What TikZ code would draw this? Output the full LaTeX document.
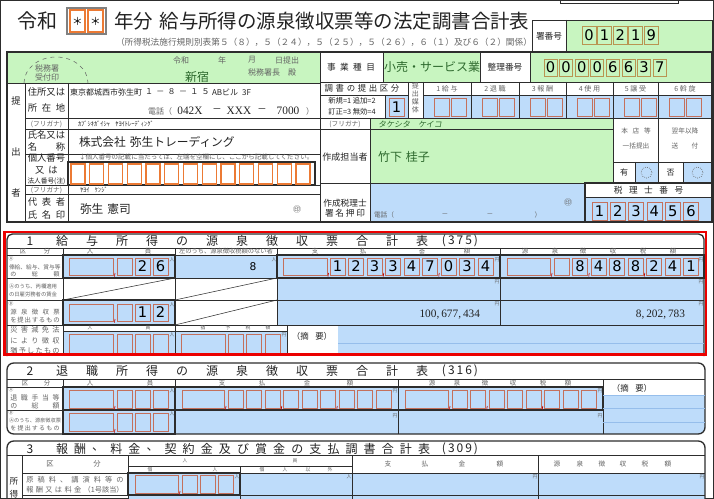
\documentclass[tikz,border=0pt]{standalone}
\usepackage{fontspec}
\setmainfont{Noto Sans CJK JP}
\newfontfamily\jp{Noto Sans CJK JP}
\newfontfamily\jpsl[FakeSlant=0.18]{Noto Sans CJK JP}
\newfontfamily\dgf{DejaVu Sans}
\newfontfamily\srf{Liberation Serif}
\newcommand{\fs}[1]{\fontsize{#1}{#1}\selectfont}
\newcommand{\sprd}[2]{\makebox[#1][s]{#2}}
\definecolor{fgreen}{RGB}{200,245,192}
\definecolor{fblue}{RGB}{190,220,250}
\definecolor{forange}{RGB}{236,122,52}
\definecolor{fbrown}{RGB}{196,112,92}
\definecolor{folive}{RGB}{185,148,82}
\definecolor{fline}{RGB}{45,45,45}
\definecolor{tdark}{RGB}{35,35,35}
\definecolor{tgray}{RGB}{100,100,100}
\definecolor{tgreen}{RGB}{45,105,45}
\definecolor{lblue}{RGB}{150,190,235}
\definecolor{fred}{RGB}{235,0,0}
\tikzset{
  tx/.style={inner sep=0pt, outer sep=0pt},
  jl/.style={tx, font=\jp\fs{7}, text=tdark},
  jm/.style={tx, font=\jp\fs{6}, text=tgray},
  js/.style={tx, font=\jp\fs{5}, text=tgray},
  jxs/.style={tx, font=\jp\fs{4.2}, text=tgray},
  jt/.style={tx, font=\jp\fs{3.6}, text=tgray},
  hd/.style={tx, font=\jp\fs{9}, text=tdark},
  dg/.style={tx, font=\dgf\fs{11}, text=black},
  ln/.style={draw=fline, line width=0.5pt},
  tk/.style={draw=fline, line width=1pt},
  bb/.style={draw=fbrown, line width=0.6pt},
  ob/.style={draw=forange, line width=0.8pt},
  ol/.style={draw=folive, line width=0.7pt},
  cmk/.style={draw=red!75!black, line width=0.5pt},
}
\begin{document}
\begin{tikzpicture}[x=0.75pt,y=-0.75pt]
\useasboundingbox (0,0) rectangle (714,499);
\begin{scope}
\clip (0,0) rectangle (714,499);
\fill[white] (0,0) rectangle (714,499);
% ================= fills top block
\fill[fgreen] (7,52) rectangle (320,83);
\fill[fgreen] (383,52) rectangle (480,82);
\fill[fgreen] (530,52) rectangle (712,82);
\fill[fgreen] (566,20) rectangle (712,52);
\fill[fblue] (385,95) rectangle (408,118);
\fill[fblue] (423,95) rectangle (712,118);
\fill[fgreen] (370,118) rectangle (613,183);
\fill[fblue] (635,162) rectangle (658,183);
\fill[fblue] (683,162) rectangle (712,183);
\fill[fblue] (370,183) rectangle (585,222);
\fill[fblue] (585,197) rectangle (712,222);
% image frame
\draw[fline, line width=0.8pt] (0.5,0.5) rectangle (713.5,498.5);
\draw[ln] (560,0) -- (560,3) -- (678,3) -- (678,0);
% ================= title
\node[tx, font=\jp\fs{15}, text=tdark, anchor=west] (reiwa) at (17,21) {令和};
\draw[gray, line width=0.8pt] (67,8) rectangle (106,34);
\draw[ob] (70,10) rectangle (85,32);
\draw[ob] (88,10) rectangle (103,32);
\node[tx, font=\jp\fs{8}] (ast1) at (77.5,21) {＊};
\node[tx, font=\jp\fs{8}] (ast2) at (95.5,21) {＊};
\node[tx, font=\jp\fs{14.6}, text=tdark, anchor=west] (title) at (114,21) {年分\hspace{5pt}給与所得の源泉徴収票等の法定調書合計表};
\node[tx, font=\jp\fs{6.5}, text=tgray, anchor=west] (subt) at (116,42) {（所得税法施行規則別表第５（８），５（２４），５（２５），５（２６），６（１）及び６（２）関係）};
% ================= 署番号
\draw[ln] (532,20) rectangle (712,52);
\draw[ln] (566,20) -- (566,52);
\node[tx, font=\jp\fs{6.5}, text=tdark] (shol) at (549,36) {署番号};
\foreach \d [count=\k from 0] in {0,1,2,1,9} {
  \draw[ol] ({582+15.6*\k},26) rectangle +(14,18);
  \node[dg] (sho\k) at ({589+15.6*\k},35) {\d};
}
% ================= top form lines
\draw[fline, line width=0.8pt] (7,52) rectangle (712,222);
\draw[ln] (7,83) -- (320,83);
\draw[ln] (320,52) -- (320,222);
\draw[ln] (25,83) -- (25,222);
\draw[ln] (68,83) -- (68,222);
\foreach \yy in {118,129,154,185,194} \draw[ln] (25,\yy) -- (320,\yy);
\draw[tk] (68,162) rectangle (315,185);
% right part
\draw[ln] (383,52) -- (383,82);
\draw[ln] (480,52) -- (480,82);
\draw[ln] (530,52) -- (530,82);
\draw[ln] (320,82) -- (712,82);
\draw[ln] (320,95) -- (408,95);
\draw[ln] (423,95) -- (712,95);
\draw[ln] (385,95) -- (385,118);
\draw[ln] (408,82) -- (408,118);
\draw[ln] (423,82) -- (423,118);
\foreach \xx in {471,519,566,613,658} \draw[ln] (\xx,82) -- (\xx,118);
\draw[ln] (320,118) -- (712,118);
\draw[ln] (370,118) -- (370,222);
\draw[ln] (320,129) -- (613,129);
\draw[ln] (613,118) -- (613,183);
\draw[ln] (658,118) -- (658,183);
\draw[ln] (613,162) -- (712,162);
\draw[ln] (635,162) -- (635,183);
\draw[ln] (683,162) -- (683,183);
\draw[ln] (320,183) -- (712,183);
\draw[tk] (585,183) rectangle (712,222);
\draw[ln] (585,197) -- (712,197);
% ---- header green texts
\draw[tgray, dashed, line width=0.4pt] (24,83) arc[start angle=180, end angle=360, x radius=32, y radius=26];
\node[jm] (zei1) at (47,68) {税務署};
\node[jm] (zei2) at (47,77) {受付印};
\node[jm] (hr) at (181,60) {令和};
\node[jm] (hy) at (222,60) {年};
\node[jm] (hmo) at (252,60) {月};
\node[jm] (hd1) at (287,60) {日提出};
\node[tx, font=\jp\fs{9}, text=tgreen] (shinj) at (197,77) {新宿};
\node[jm] (zcho) at (272,72) {税務署長\hspace{6pt}殿};
% ---- left labels
\node[jl] (tei) at (16,101) {提};
\node[jl] (shu) at (16,152) {出};
\node[jl] (sha) at (16,193) {者};
\node[jl] (l1) at (46.5,92) {住所又は};
\node[jl] (l2) at (46.5,108) {\sprd{28pt}{所\hfill 在\hfill 地}};
\node[js] (l3) at (46.5,124) {(フリガナ)};
\node[jl] (l4) at (46.5,135) {氏名又は};
\node[jl] (l5) at (46.5,147) {\sprd{28pt}{名\hfill 称}};
\node[jl] (l6) at (46.5,158) {個人番号};
\node[jl] (l7) at (46.5,170) {又\hspace{3pt}は};
\node[tx, font=\jp\fs{5}, text=tdark] (l8) at (46.5,181) {法人番号(注)};
\node[js] (l9) at (46.5,190) {(フリガナ)};
\node[jl] (l10) at (46.5,202) {\sprd{28pt}{代\hfill 表\hfill 者}};
\node[jl] (l11) at (46.5,215) {\sprd{28pt}{氏\hfill 名\hfill 印}};
% ---- left contents
\node[tx, font=\jp\fs{6}, text=tdark, anchor=west] (ad1) at (70,92) {東京都城西市弥生町};
\node[tx, font=\jp\fs{6}, text=tdark, anchor=west] (ad2) at (145,92) {１\hspace{2.5pt}－\hspace{2.5pt}８\hspace{2.5pt}－\hspace{2.5pt}１\hspace{2.5pt}５};
\node[tx, font=\jp\fs{6}, text=tdark, anchor=west] (ad3) at (212,92) {ABビル\hspace{3pt}3F};
\node[jm] (tel1) at (160,111) {電話（};
\node[tx, font=\srf\fs{8.5}, text=tdark] (tel2) at (190,111) {042X};
\node[tx, font=\jp\fs{7}, text=tdark] (tel3) at (217,111) {－};
\node[tx, font=\srf\fs{8.5}, text=tdark] (tel4) at (239,111) {XXX};
\node[tx, font=\jp\fs{7}, text=tdark] (tel5) at (262,111) {－};
\node[tx, font=\srf\fs{8.5}, text=tdark] (tel6) at (288,111) {7000};
\node[jm] (tel7) at (310,111) {）};
\node[tx, font=\jp\fs{4.8}, text=tdark, anchor=west] (kana1) at (78,124) {ｶﾌﾞｼｷｶﾞｲｼｬ\hspace{4pt}ﾔﾖｲﾄﾚｰﾃﾞｨﾝｸﾞ};
\node[tx, font=\jp\fs{8.8}, text=tdark, anchor=west] (corp) at (79,142) {株式会社\hspace{3pt}弥生トレーディング};
\node[tx, font=\jp\fs{4.9}, text=tgray, anchor=west] (note) at (79,157.5) {↓個人番号の記載に当たっては、左端を空欄にし、ここから記載してください。};
\foreach \k in {0,...,12} \draw[ob] ({71+18.75*\k},164) rectangle +(14,20);
\node[tx, font=\jp\fs{4.8}, text=tdark, anchor=west] (kana2) at (80,190) {ﾔﾖｲ\hspace{4pt}ｹﾝｼﾞ};
\node[tx, font=\jp\fs{8.8}, text=tdark, anchor=west] (rep) at (80,209) {弥生\hspace{3pt}憲司};
\node[jm] (in1) at (297,209) {㊞};
% ---- right labels
\node[tx, font=\jp\fs{6.5}, text=tdark] (jg) at (351,67) {\sprd{36pt}{事\hfill 業\hfill 種\hfill 目}};
\node[tx, font=\jp\fs{9}, text=tgreen] (jgv) at (432,67) {小売・サービス業};
\node[tx, font=\jp\fs{6.5}, text=tdark] (sr) at (505,67) {整理番号};
\foreach \d [count=\k from 0] in {0,0,0,0,6,6,3,7} {
  \draw[ol] ({544+15.6*\k},59) rectangle +(13,17);
  \node[dg] (sei\k) at ({550.5+15.6*\k},67.5) {\d};
}
\node[tx, font=\jp\fs{6.3}, text=tdark] (kbn) at (362,88.5) {\sprd{56pt}{調\hfill 書\hfill の\hfill 提\hfill 出\hfill 区\hfill 分}};
\node[tx, font=\jp\fs{5.5}, text=tdark] (kb1) at (352,101) {新規=1 追加=2};
\node[tx, font=\jp\fs{5.5}, text=tdark] (kb2) at (352,112) {訂正=3 無効=4};
\draw[bb] (389,98) rectangle (404,116);
\node[dg] (kbv) at (396.5,107) {1};
\foreach \c [count=\k from 0] in {提,出,媒,体} \node[tx, font=\jp\fs{5.3}, text=tgray] (bt\k) at (415.5,{86+8*\k}) {\c};
\foreach \t/\xa/\xb [count=\k from 0] in {1 給 与/423/471, 2 退 職/471/519, 3 報 酬/519/566, 4 使 用/566/613, 5 譲 受/613/658, 6 斡 旋/658/712} {
  \node[tx, font=\jp\fs{5.3}, text=tgray] (md\k) at ({(\xa+\xb)/2},88.5) {\t};
  \draw[bb] ({\xa+11},98) rectangle +(15,18);
  \draw[bb] ({\xa+28},98) rectangle +(15,18);
}
\node[js] (rf) at (345,124) {(フリガナ)};
\node[tx, font=\jpsl\fs{6}, text=tgreen, anchor=west] (rfv) at (378,124) {タケシタ\hspace{6pt}ケイコ};
\node[tx, font=\jp\fs{6.8}, text=tdark] (tan) at (345,157) {作成担当者};
\node[tx, font=\jp\fs{9}, text=tgreen, anchor=west] (tanv) at (378,157) {竹下\hspace{3pt}桂子};
\node[tx, font=\jp\fs{6.5}, text=tdark] (zr1) at (345,203) {作成税理士};
\node[tx, font=\jp\fs{6.5}, text=tdark] (zr2) at (345,213) {\sprd{30pt}{署\hfill 名\hfill 押\hfill 印}};
\node[jm] (in2) at (568,202) {㊞};
\node[js, anchor=west] (zt1) at (374,215) {電話（};
\node[js] (zt2) at (445,215) {－};
\node[js] (zt3) at (490,215) {－};
\node[js] (zt4) at (538,215) {）};
\node[js] (hn1) at (636,131) {\sprd{22pt}{本\hfill 店\hfill 等}};
\node[js] (hn2) at (636,146) {一括提出};
\node[js] (yk1) at (685,131) {翌年以降};
\node[js] (yk2) at (685,146) {\sprd{20pt}{送\hfill 付}};
\node[tx, font=\jp\fs{6}, text=tdark] (ari) at (624,172.5) {有};
\node[tx, font=\jp\fs{6}, text=tdark] (ina) at (670.5,172.5) {否};
\draw[tgray, densely dotted, line width=0.5pt] (646.5,172.5) circle (5.5);
\draw[tgray, densely dotted, line width=0.5pt] (697.5,172.5) circle (5.5);
\node[tx, font=\jp\fs{6.5}, text=tdark] (zbn) at (648.5,190) {\sprd{52pt}{税\hfill 理\hfill 士\hfill 番\hfill 号}};
\foreach \d [count=\k from 0] in {1,2,3,4,5,6} {
  \draw[bb] ({592+18.3*\k},202) rectangle +(15,18);
  \node[dg] (zb\k) at ({599.5+18.3*\k},211) {\d};
}
% ================= section 1
\begin{scope}
\clip[rounded corners=4] (7,234) rectangle (704,370);
\fill[fblue] (63,255) rectangle (704,278);
\fill[fblue] (277,278) rectangle (704,300);
\fill[fblue] (63,300) rectangle (175,325);
\fill[fblue] (277,300) rectangle (704,325);
\fill[fblue] (63,331) rectangle (287,355);
\fill[fblue] (338,325) rectangle (704,355);
\end{scope}
\draw[tk, rounded corners=4] (7,356) -- (7,234) -- (704,234) -- (704,356);
\foreach \yy in {248,255,278,300,325} \draw[ln] (7,\yy) -- (704,\yy);
\draw[ln] (63,248) -- (63,356);
\draw[ln] (175,248) -- (175,356);
\draw[ln] (277,248) -- (277,325);
\draw[ln] (500,248) -- (500,325);
\draw[ln] (287,325) -- (287,356);
\draw[ln] (63,331) -- (287,331);
\draw[tk] (63,255) rectangle (175,278);
\draw[tk] (63,300) rectangle (175,325);
\draw[tk] (277,255) rectangle (704,278);
\draw[tk] (500,255) -- (500,278);
\draw[fline, line width=0.4pt] (63,300) -- (175,278);
\draw[fline, line width=0.4pt] (175,300) -- (277,278);
\draw[fline, line width=0.4pt] (175,325) -- (277,300);
\draw[lblue, line width=0.5pt] (338,343) -- (704,343);
% header
\node[hd] (s1n) at (30,241) {1};
\foreach \c [count=\k from 0] in {給,与,所,得,の,源,泉,徴,収,票,合,計,表} \node[hd] (s1h\k) at ({62+30*\k},241) {\c};
\node[hd] (s1c) at (460,241) {(\,3\,7\,5\,)};
\foreach \c/\xx [count=\k from 0] in {区/23,分/47,人/90,員/148,支/315,払/363,金/422,額/467,源/525,泉/555,徴/583,収/613,税/643,額/673} \node[tx, font=\jp\fs{4.8}, text=tgray] (s1k\k) at (\xx,251.5) {\c};
\node[tx, font=\jp\fs{4.7}, text=tgray] (s1kl) at (226,251.5) {左のうち、源泉徴収税額のない者};
% row labels
\node[jt] (s1a0) at (11,258.5) {Ⓐ};
\node[tx, font=\jp\fs{4.3}, text=tgray, anchor=west] (s1a1) at (9,267) {俸給、給与、賞与等};
\node[tx, font=\jp\fs{4.5}, text=tgray] (s1a2) at (35,274.5) {\sprd{37pt}{の\hfill 総\hfill 額}};
\node[tx, font=\jp\fs{4}, text=tgray, anchor=west] (s1b1) at (9,286) {Ⓐのうち、丙欄適用};
\node[tx, font=\jp\fs{4}, text=tgray, anchor=west] (s1b2) at (9,294) {の日雇労務者の賃金};
\node[jt] (s1c0) at (11,304) {Ⓑ};
\node[tx, font=\jp\fs{4.8}, text=tgray] (s1c1) at (35,312) {\sprd{37pt}{源\hfill 泉\hfill 徴\hfill 収\hfill 票}};
\node[tx, font=\jp\fs{4.8}, text=tgray] (s1c2) at (35,320) {\sprd{37pt}{を\hfill 提\hfill 出\hfill す\hfill る\hfill も\hfill の}};
\node[tx, font=\jp\fs{5.4}, text=tgray] (s1d1) at (35,330) {\sprd{37pt}{災\hfill 害\hfill 減\hfill 免\hfill 法}};
\node[tx, font=\jp\fs{5.4}, text=tgray] (s1d2) at (35,340.5) {\sprd{37pt}{に\hfill よ\hfill り\hfill 徴\hfill 収}};
\node[tx, font=\jp\fs{5.4}, text=tgray] (s1d3) at (35,351) {\sprd{37pt}{猶\hfill 予\hfill し\hfill た\hfill も\hfill の}};
% row A boxes
\draw[bb] (69,258) rectangle (113,275);
\foreach \k in {0,1,2} \draw[bb] ({117+18*\k},258) rectangle +(15,17);
\node[dg] (s1p1) at (142.5,266.5) {2};
\node[dg] (s1p2) at (160.5,266.5) {6};
\draw[cmk] (115,273) -- (114.5,276.5);
\node[tx, font=\dgf\fs{8}, text=black] (s1e) at (253,267) {8};
\draw[bb] (283,258) rectangle (327,275);
\foreach \d [count=\k from 0] in {1,2,3,3,4,7,0,3,4} {
  \draw[bb] ({330+18.5*\k},258) rectangle +(15,17);
  \node[dg] (s1s\k) at ({337.5+18.5*\k},266.5) {\d};
}
\foreach \xx in {328.5,383.75,439.25} \draw[cmk] (\xx,273) -- (\xx-0.5,276.5);
\draw[bb] (507,258) rectangle (550,275);
\foreach \k in {0,...,7} \draw[bb] ({554+18.5*\k},258) rectangle +(15,17);
\foreach \d [count=\k from 1] in {8,4,8,8,2,4,1} \node[dg] (s1g\k) at ({561.5+18.5*\k},266.5) {\d};
\foreach \xx in {552,589.25,644.75} \draw[cmk] (\xx,273) -- (\xx-0.5,276.5);
% row B boxes
\draw[bb] (69,304) rectangle (113,321);
\foreach \k in {0,1,2} \draw[bb] ({117+18*\k},304) rectangle +(15,17);
\node[dg] (s1q1) at (142.5,312.5) {1};
\node[dg] (s1q2) at (160.5,312.5) {2};
\draw[cmk] (115,319) -- (114.5,322.5);
\node[tx, font=\srf\fs{8.5}, text=tdark, anchor=east] (s1bv1) at (480,315) {100,\,677,\,434};
\node[tx, font=\srf\fs{8.5}, text=tdark, anchor=east] (s1bv2) at (685,315) {8,\,202,\,783};
% small unit marks
\foreach \xx/\yy [count=\k from 0] in {172/259.5,274/259.5,172/304.5} \node[jt] (s1u\k) at (\xx,\yy) {人};
\foreach \xx/\yy [count=\k from 0] in {497/259.5,701/259.5,497/281.5,701/281.5,497/303.5,701/303.5,284/335} \node[jt] (s1y\k) at (\xx,\yy) {円};
% row disaster
\node[jt] (s1dh1) at (90,328) {人};
\node[jt] (s1dh2) at (148,328) {員};
\foreach \c/\xx [count=\k from 0] in {猶/203,予/228,税/248,額/268} \node[jt] (s1dk\k) at (\xx,328) {\c};
\draw[bb] (69,334) rectangle (113,355);
\foreach \k in {0,1,2} \draw[bb] ({117+18*\k},334) rectangle +(15,21);
\draw[bb] (181,334) rectangle (225,355);
\foreach \k in {0,1,2} \draw[bb] ({228+18.5*\k},334) rectangle +(15,21);
\node[jt] (s1du) at (172,335) {人};
\node[tx, font=\jp\fs{6.3}, text=tdark] (s1tk) at (312,336) {（摘\hspace{5pt}要）};
% red frame
\draw[fred, line width=2.2pt] (4.5,232) rectangle (706,354.5);
% ================= section 2
\begin{scope}
\clip[rounded corners=5] (7,363) rectangle (705,434);
\fill[fblue] (63,387) rectangle (603,434);
\fill[fblue] (603,395) rectangle (705,434);
\end{scope}
\draw[tk, rounded corners=5] (7,363) rectangle (705,434);
\draw[ln] (7,379) -- (705,379);
\draw[ln] (7,387) -- (603,387);
\draw[ln] (7,410) -- (603,410);
\foreach \xx in {63,175,398,603} \draw[ln] (\xx,379) -- (\xx,434);
\draw[tk] (63,387) rectangle (175,410);
\draw[tk] (175,387) rectangle (603,410);
\draw[tk] (63,410) rectangle (175,434);
\draw[lblue, line width=0.5pt] (603,395) -- (705,395);
\draw[lblue, line width=0.5pt] (603,408) -- (705,408);
\draw[lblue, line width=0.5pt] (603,422) -- (705,422);
\node[hd] (s2n) at (30,371) {2};
\foreach \c [count=\k from 0] in {退,職,所,得,の,源,泉,徴,収,票,合,計,表} \node[hd] (s2h\k) at ({62+30*\k},371) {\c};
\node[hd] (s2c) at (460,371) {(\,3\,1\,6\,)};
\foreach \c/\xx [count=\k from 0] in {区/25,分/47,人/90,員/150,支/222,払/262,金/307,額/350,源/432,泉/457,徴/485,収/513,税/543,額/568} \node[tx, font=\jp\fs{4.8}, text=tgray] (s2k\k) at (\xx,383) {\c};
\node[tx, font=\jp\fs{6.3}, text=tdark] (s2tk) at (632,388) {（摘\hspace{5pt}要）};
\node[jt] (s2a0) at (11,389.5) {Ⓐ};
\node[tx, font=\jp\fs{5.2}, text=tgray] (s2a1) at (35,398) {\sprd{37pt}{退\hfill 職\hfill 手\hfill 当\hfill 等}};
\node[tx, font=\jp\fs{5.2}, text=tgray] (s2a2) at (35,405.5) {\sprd{37pt}{の\hfill 総\hfill 額}};
\node[jt] (s2b0) at (11,413) {Ⓑ};
\node[tx, font=\jp\fs{3.9}, text=tgray, anchor=west] (s2b1) at (9,420.5) {Ⓐのうち、源泉徴収票};
\node[tx, font=\jp\fs{4.5}, text=tgray] (s2b2) at (35,428.5) {\sprd{37pt}{を\hfill 提\hfill 出\hfill す\hfill る\hfill も\hfill の}};
% boxes row A
\draw[bb] (69,390) rectangle (113,408);
\foreach \k in {0,1,2} \draw[bb] ({117+18*\k},390) rectangle +(15,18);
\draw[bb] (182,390) rectangle (224,408);
\foreach \k in {0,...,8} \draw[bb] ({228+18.5*\k},390) rectangle +(15,18);
\draw[bb] (405,390) rectangle (448,408);
\foreach \k in {0,...,7} \draw[bb] ({452+18.5*\k},390) rectangle +(15,18);
\foreach \xx in {115,226,281.75,337.25,450,487.25,542.75} \draw[cmk] (\xx,406) -- (\xx-0.5,409.5);
% boxes row B
\draw[bb] (69,413) rectangle (113,431);
\foreach \k in {0,1,2} \draw[bb] ({117+18*\k},413) rectangle +(15,18);
\draw[cmk] (115,429) -- (114.5,432.5);
\foreach \xx/\yy [count=\k from 0] in {172/390.5,172/414} \node[jt] (s2u\k) at (\xx,\yy) {人};
\foreach \xx/\yy [count=\k from 0] in {395/391,600/391,395/416,600/416} \node[jt] (s2y\k) at (\xx,\yy) {円};
% ================= section 3
\begin{scope}
\clip[rounded corners=5] (7,441) rectangle (705,530);
\fill[fblue] (128,473) rectangle (705,530);
\end{scope}
\draw[tk, rounded corners=5] (7,441) rectangle (705,530);
\draw[ln] (7,455) -- (705,455);
\draw[ln] (22,455) -- (22,499);
\draw[ln] (128,455) -- (128,499);
\draw[ln] (240,466) -- (240,499);
\draw[ln] (352,455) -- (352,499);
\draw[ln] (538,455) -- (538,499);
\draw[ln] (128,466) -- (352,466);
\draw[ln] (22,473) -- (705,473);
\draw[ln] (22,495) -- (705,495);
\draw[tk] (128,473) rectangle (240,495);
\node[hd] (s3n) at (30,449) {3};
\foreach \c [count=\k from 0] in {報,酬,、,料,金,、,契,約,金,及,び,賞,金,の,支,払,調,書,合,計,表} \node[hd] (s3h\k) at ({62+18.1*\k},449) {\c};
\node[hd] (s3c) at (460,449) {(\,3\,0\,9\,)};
\node[tx, font=\jp\fs{5.5}, text=tgray] (s3k1) at (50,464) {区};
\node[tx, font=\jp\fs{5.5}, text=tgray] (s3k2) at (97,464) {分};
\node[jt] (s3k3) at (185,460.5) {人};
\node[jt] (s3k4) at (295,460.5) {員};
\foreach \c/\xx [count=\k from 0] in {個/150,人/215,個/262,人/285,以/308,外/330} \node[jt] (s3s\k) at (\xx,470) {\c};
\foreach \c/\xx [count=\k from 0] in {支/388,払/425,金/462,額/500,源/557,泉/580,徴/602,収/623,税/645,額/668} \node[tx, font=\jp\fs{5}, text=tgray] (s3m\k) at (\xx,464) {\c};
\node[tx, font=\jp\fs{6.5}, text=tdark] (s3v1) at (14,481) {所};
\node[tx, font=\jp\fs{6.5}, text=tdark] (s3v2) at (14,494) {得};
\node[tx, font=\jp\fs{5.4}, text=tgray] (s3r1) at (75,480) {\sprd{73pt}{原\hfill 稿\hfill 料\hfill 、\hfill 講\hfill 演\hfill 料\hfill 等\hfill の}};
\node[tx, font=\jp\fs{5.4}, text=tgray] (s3r2) at (75,489.5) {\sprd{73pt}{報\hfill 酬\hfill 又\hfill は\hfill 料\hfill 金\hfill （1号該当）}};
\draw[bb] (135,475) rectangle (178,493);
\foreach \k in {0,1,2} \draw[bb] ({182+18*\k},475) rectangle +(15,18);
\draw[cmk] (180,491) -- (179.5,494.5);
\node[jt] (s3u1) at (237,477) {人};
\node[jt] (s3u2) at (349,477) {人};
\node[jt] (s3y1) at (535,477) {円};
\node[jt] (s3y2) at (702,477) {円};
\end{scope}
\end{tikzpicture}
\end{document}
